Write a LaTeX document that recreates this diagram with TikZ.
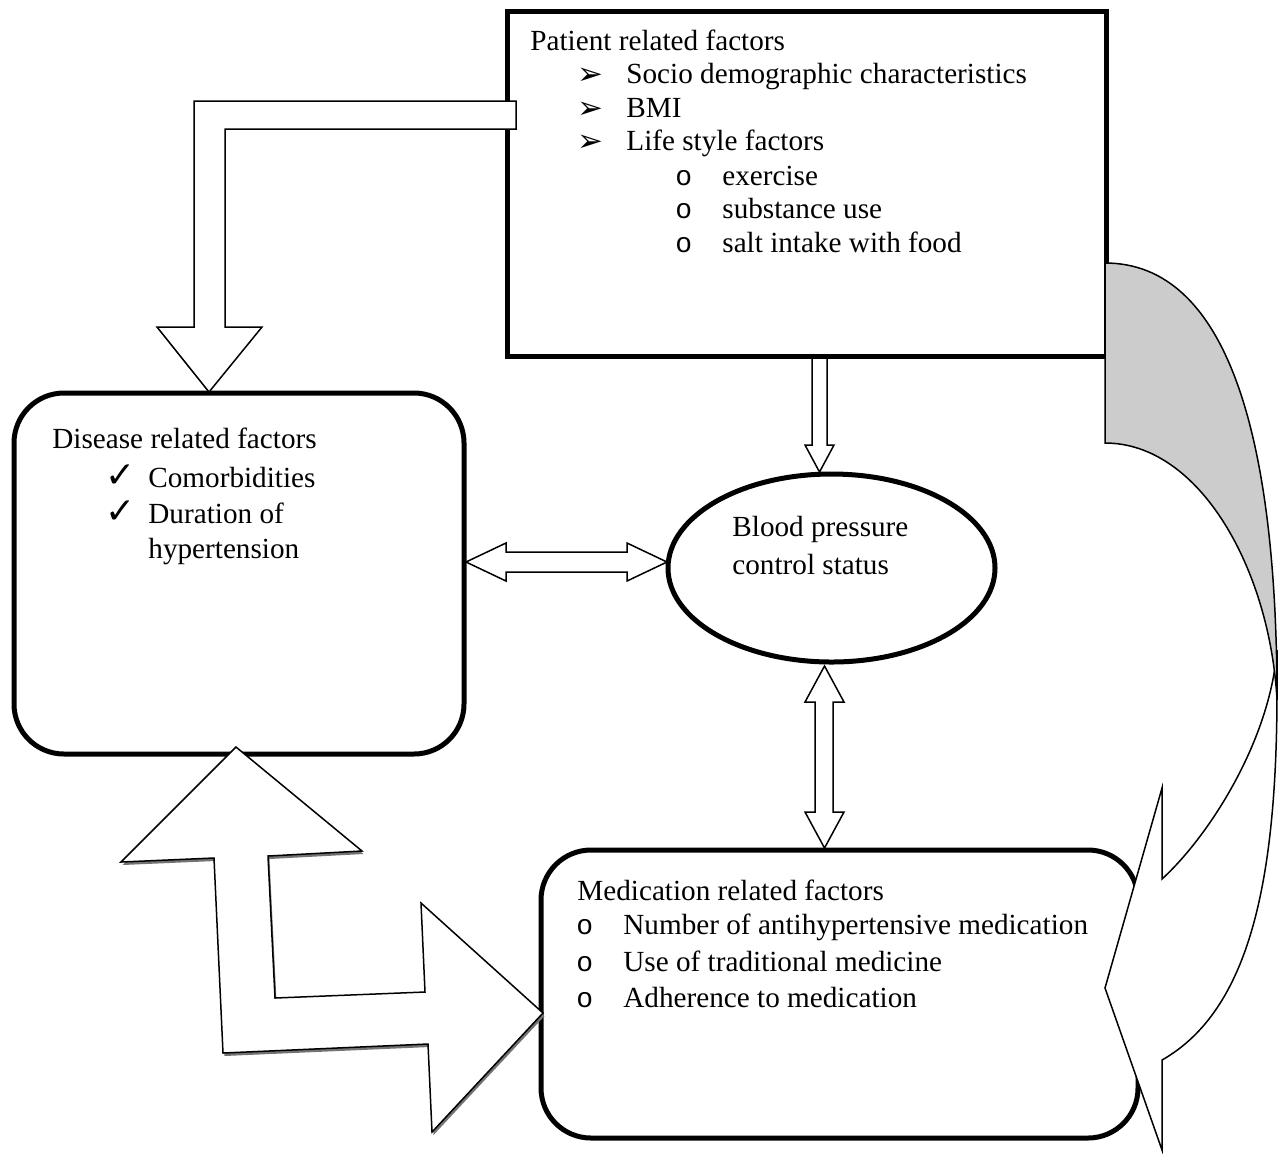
\documentclass[tikz,border=0pt]{standalone}
\usepackage{fontspec}
\setmainfont{Liberation Serif}
\newfontfamily\dvsym{DejaVu Sans}
\newfontfamily\cmono{Liberation Mono}
\usetikzlibrary{shapes.geometric}
\begin{document}
\begin{tikzpicture}[x=0.5pt,y=-0.5pt,
  box/.style={draw=black, line width=2.5pt, inner sep=0pt, fill=white},
  txt/.style={anchor=base west, inner sep=0pt, font=\fontsize{14.6}{17}\selectfont},
  arrowbul/.style={anchor=base west, inner sep=0pt, font=\dvsym\fontsize{15.5}{17}\selectfont},
  checkbul/.style={anchor=base west, inner sep=0pt, font=\dvsym\fontsize{18}{20}\selectfont},
  circbul/.style={anchor=base west, inner sep=0pt, font=\cmono\fontsize{14}{17}\selectfont},
  blockarrow/.style={draw=black, fill=white, line width=0.75pt, line join=miter},
  shadowfill/.style={fill=black!55}
]
\useasboundingbox (0,0) rectangle (1278,1153);

% ---------- boxes ----------
\node[box, rectangle, minimum width=299.5pt, minimum height=172.5pt] (patient) at (806.5,183.5) {};
\node[box, rectangle, rounded corners=25pt, minimum width=225pt, minimum height=180.5pt] (disease) at (239,573.5) {};
\node[box, rectangle, rounded corners=25pt, minimum width=298.5pt, minimum height=144pt] (medication) at (839.5,994) {};
\node[box, ellipse, minimum width=163.5pt, minimum height=94pt] (bp) at (831.5,568) {};

% ---------- patient text ----------
\node[txt] (p0) at (530,50) {Patient related factors};
\node[arrowbul] (pb1) at (577,84) {➢};
\node[txt] (p1) at (626,83) {Socio demographic characteristics};
\node[arrowbul] (pb2) at (577,118) {➢};
\node[txt] (p2) at (626,117) {BMI};
\node[arrowbul] (pb3) at (577,151) {➢};
\node[txt] (p3) at (626,150) {Life style factors};
\node[circbul] (pc1) at (675,185) {o};
\node[txt] (p4) at (722,185) {exercise};
\node[circbul] (pc2) at (675,218) {o};
\node[txt] (p5) at (722,218) {substance use};
\node[circbul] (pc3) at (675,252) {o};
\node[txt] (p6) at (722,252) {salt intake with food};

% ---------- disease text ----------
\node[txt] (d0) at (52,448) {Disease related factors};
\node[checkbul] (db1) at (105,487) {✓};
\node[txt] (d1) at (148,487) {Comorbidities};
\node[checkbul] (db2) at (105,523) {✓};
\node[txt] (d2) at (148,523) {Duration of};
\node[txt] (d3) at (148,558) {hypertension};

% ---------- BP text ----------
\node[txt] (b0) at (732,536) {Blood pressure};
\node[txt] (b1) at (732,574) {control status};

% ---------- medication text ----------
\node[txt] (m0) at (577,900) {Medication related factors};
\node[circbul] (mc1) at (576,934) {o};
\node[txt] (m1) at (623,934) {Number of antihypertensive medication};
\node[circbul] (mc2) at (576,971) {o};
\node[txt] (m2) at (623,971) {Use of traditional medicine};
\node[circbul] (mc3) at (576,1007) {o};
\node[txt] (m3) at (623,1007) {Adherence to medication};

% ---------- top-left bent arrow: patient -> disease ----------
\draw[blockarrow] (516,101) -- (194,101) -- (194,327) -- (157,327) -- (209,392)
  -- (262,327) -- (225,327) -- (225,129) -- (516,129) -- cycle;

% ---------- patient -> bp ----------
\draw[blockarrow] (812,359) -- (812,445) -- (805,445) -- (819.5,472) -- (834,445)
  -- (827,445) -- (827,359);

% ---------- disease <-> bp ----------
\draw[blockarrow] (466,562) -- (506,543) -- (506,552) -- (627,552) -- (627,543)
  -- (667,562) -- (627,581) -- (627,572) -- (506,572) -- (506,581) -- cycle;

% ---------- bp <-> medication ----------
\draw[blockarrow] (824.5,666) -- (844,702) -- (833,702) -- (833,812) -- (844,812)
  -- (824.5,848) -- (805,812) -- (815,812) -- (815,702) -- (805,702) -- cycle;

% ---------- disease <-> medication bent double arrow (with shadow) ----------
\fill[shadowfill, shift={(1.5,3)}] (236,747) -- (362,851) -- (268,856) -- (275,998)
  -- (425,992) -- (421,903) -- (543,1013) -- (432,1132) -- (428,1044)
  -- (223,1053) -- (214,858) -- (121,862) -- cycle;
\draw[blockarrow] (236,747) -- (362,851) -- (268,856) -- (275,998)
  -- (425,992) -- (421,903) -- (543,1013) -- (432,1132) -- (428,1044)
  -- (223,1053) -- (214,858) -- (121,862) -- cycle;

% ---------- curved arrow: patient -> medication ----------
\draw[blockarrow] (1277,650) .. controls (1270,740) and (1210,835) .. (1162,879)
  -- (1162,788) -- (1105,988) -- (1162,1150) -- (1162,1060)
  .. controls (1250,1010) and (1277,880) .. (1277,690) -- cycle;
\draw[blockarrow, fill=black!20] (1105,443) -- (1105,263)
  .. controls (1225,263) and (1277,430) .. (1277,700)
  .. controls (1270,570) and (1200,443) .. (1105,443) -- cycle;
\end{tikzpicture}
\end{document}
